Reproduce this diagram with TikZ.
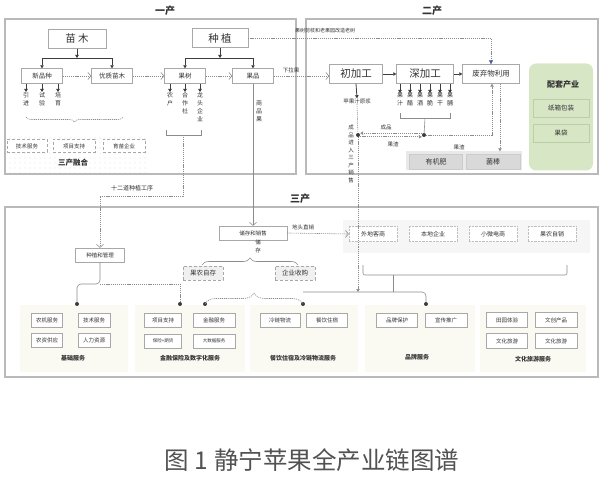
\documentclass[tikz,border=0pt]{standalone}
\usepackage{fontspec}
\setmainfont{Noto Sans CJK SC}
\usepackage{xcolor}
\usetikzlibrary{positioning,arrows.meta,patterns.meta,decorations.pathreplacing,calc}

\definecolor{lnc}{HTML}{8C8C8C}
\definecolor{bdc}{HTML}{A8A8A8}
\definecolor{txc}{HTML}{333333}
\definecolor{trc}{HTML}{3C3C3C}
\definecolor{grn}{HTML}{D7E6C5}
\definecolor{grnbd}{HTML}{BACFA5}
\definecolor{svbg}{HTML}{FAFAF3}
\definecolor{arb}{HTML}{4E5A9A}
\newcommand\fsz[2]{\fontsize{#1}{#2}\selectfont}

\begin{document}
\begin{tikzpicture}[x=1pt,y=-1pt,text=txc,
  frame/.style={draw=gray!55,line width=1.5pt},
  title/.style={font=\bfseries\fsz{10}{10}},
  bigbox/.style={draw=bdc,fill=white,inner sep=0,minimum height=19pt,font=\fsz{10.5}{10.5}},
  midbox/.style={draw=bdc,fill=white,inner sep=0,minimum width=41pt,minimum height=15pt,font=\fsz{6.5}{7}},
  svbox/.style={draw=bdc,fill=white,inner sep=0,minimum width=41pt,minimum height=14pt,font=\fsz{5.5}{6}},
  dbox/.style={svbox,densely dashed},
  vlab/.style={font=\fsz{6}{8},align=center,inner sep=0,anchor=north},
  slab/.style={font=\fsz{5.5}{6},inner sep=0},
  blab/.style={font=\bfseries\fsz{6}{6},inner sep=0},
  link/.style={draw=lnc,line width=0.6pt},
  dlink/.style={link,dash pattern=on 1.2pt off 0.9pt},
  tree/.style={draw=trc,line width=0.8pt},
  openarr/.style={-{Straight Barb[length=3pt,width=7pt]}},
  filarr/.style={-{Triangle[length=3pt,width=3.5pt]}},
  dotn/.style={circle,fill=trc,inner sep=0,minimum size=4pt}]
\useasboundingbox (0,0) rectangle (604,478);

% 一产
\node[title] (t1) at (165,11) {一产};
\fill[pattern={Dots[distance=5pt,radius=0.45pt]},pattern color=gray!70] (6,135) rectangle (146,173);
\draw[frame] (5,19) rectangle (296,174);
\node[bigbox,minimum width=58pt] (mm) at (77,39) {苗\ 木};
\node[bigbox,minimum width=56pt] (zz) at (220,38) {种\ 植};
\node[midbox] (xpz) at (42,76) {新品种};
\node[midbox] (yzmm) at (112,76) {优质苗木};
\node[midbox] (gs) at (185,76) {果树};
\node[midbox] (gp) at (253,76) {果品};
\coordinate (mmj) at (77,58);
\coordinate (zzj) at (220,58);
\draw[tree,filarr] (mm.south) -- (mmj);
\draw[tree,filarr] (mmj) -| (xpz.north);
\draw[tree,filarr] (mmj) -| (yzmm.north);
\draw[tree,filarr] (zz.south) -- (zzj);
\draw[tree,filarr] (zzj) -| (gs.north);
\draw[tree,filarr] (zzj) -| (gp.north);
\draw[dlink,openarr] (xpz) -- (yzmm);
\draw[dlink,openarr] (yzmm) -- (gs);
\draw[dlink,openarr] (gs) -- (gp);
\foreach \x/\lab [count=\i] in {26/{引\\进},42/{试\\验},58/{培\\育}} {
  \node[vlab] (xl\i) at (\x,92) {\lab};
  \draw[tree,filarr] (xpz.south -| xl\i) -- (xl\i.north);
}
\draw[dlink,decorate,decoration={brace,mirror,amplitude=5pt}] (26,117) -- (123,117);
\foreach \x/\lab [count=\i] in {170/{农\\户},185/{合\\作\\社},200/{龙\\头\\企\\业}} {
  \node[vlab] (gl\i) at (\x,92) {\lab};
  \draw[tree,filarr] (gs.south -| gl\i) -- (gl\i.north);
}
\draw[link] (166,130) -- (166,135) -- (201,135) -- (201,130);
\coordinate (gsb) at (183,135);
\node[vlab] (spg) at (259,100) {商\\品\\果};
\node[dbox,minimum width=40pt,minimum height=13pt] (r1) at (27,146) {技术服务};
\node[dbox,minimum width=42pt,minimum height=13pt] (r2) at (74,146) {项目支持};
\node[dbox,minimum width=42pt,minimum height=13pt] (r3) at (124,146) {育苗企业};
\node[font=\bfseries\fsz{7.5}{7.5}] (rh) at (73,163) {三产融合};

% 二产
\node[title] (t2) at (432,11) {二产};
\draw[frame] (306,19) rectangle (598,174);
\node[bigbox,minimum width=53pt] (cjg) at (356,74) {初加工};
\node[bigbox,minimum width=57pt] (sjg) at (425,74) {深加工};
\node[bigbox,minimum width=57pt,font=\fsz{7.5}{7.5}] (fq) at (491,74) {废弃物利用};
\draw[tree,filarr] (cjg) -- (sjg);
\draw[tree,filarr] (sjg) -- (fq);
\draw[dlink,openarr] (gp.east) -- (cjg.west |- gp.east);
\node[slab] (xlg) at (291,70) {下拉果};
\draw[dlink,-{Triangle[length=4pt,width=4pt,color=arb]}] (zz.east) -| (fq.north);
\node[slab,font=\fsz{5}{5}] (jzl) at (325,31) {果树剪枝和老果园改造老树};
\node[slab] (pgz) at (357,101) {苹果汁原浆};
\draw[tree,filarr] (cjg.south) -- (pgz.north);
\foreach \x/\lab [count=\i] in {400/{果\\汁},410/{果\\醋},420/{果\\酒},430/{果\\脆},440/{果\\干},450/{果\\脯}} {
  \node[vlab] (sl\i) at (\x,93) {\lab};
  \draw[tree,filarr] (sjg.south -| sl\i) -- (sl\i.north);
}
\draw[link] (400,113) -- (400,118) -- (450,118) -- (450,113);
\node[dotn] (dl) at (358,135) {};
\node[dotn] (dm) at (424,135) {};
\draw[link] (425,118) -- (dm);
\draw[dlink] (pgz.south) -- (dl);
\draw[dlink,filarr] ([yshift=1.8pt]dm.west) -- ([yshift=1.8pt]dl.east);
\draw[dlink,filarr] ([yshift=-1.8pt]dl.east) -- ([yshift=-1.8pt]dm.west);
\node[slab] (cp) at (386,127) {成品};
\node[slab] (gz1) at (393,144) {果渣};
\draw[dlink,filarr] (dm.east) -| ([xshift=1pt]fq.south);
\node[slab] (gz2) at (459,147) {果渣};
\node[fill=gray!17,inner sep=0,minimum width=116pt,minimum height=19pt] (fz) at (464,161) {};
\node[fill=gray!30,draw=gray!40,inner sep=0,minimum width=53pt,minimum height=15pt,font=\fsz{7}{7}] (yjf) at (436,162) {有机肥};
\node[fill=gray!30,draw=gray!40,inner sep=0,minimum width=54pt,minimum height=15pt,font=\fsz{7}{7}] (jb) at (493,162) {菌棒};
\draw[dlink,filarr] ([xshift=9pt]fq.south) -- ([xshift=9pt]fq.south |- fz.north);
\node[fill=grn,rounded corners=7pt,inner sep=0,minimum width=64pt,minimum height=107pt] (ptcy) at (561,117) {};
\node[font=\bfseries\fsz{8}{8}] (pth) at (563,84) {配套产业};
\node[draw=grnbd,fill=grn,inner sep=0,minimum width=56pt,minimum height=18pt,font=\fsz{6.5}{7}] (zx) at (561,108) {纸箱包装};
\node[draw=grnbd,fill=grn,inner sep=0,minimum width=56pt,minimum height=18pt,font=\fsz{6.5}{7}] (gd) at (561,133) {果袋};

% 三产
\node[title] (t3) at (300,199) {三产};
\draw[frame] (5,207) rectangle (598,377);
\fill[gray!7] (343,220) rectangle (590,253);
\foreach \x/\y/\w/\h in {20/305/108/67,135/305/110/67,250/305/108/67,365/305/110/67,480/305/106/67}
  \fill[svbg] (\x,\y) rectangle ++(\w,\h);
\node[svbox,minimum width=68pt] (cxs) at (253,233) {储存和销售};
\node[svbox,minimum width=49pt] (zgl) at (100,255) {种植和管理};
\draw[link,openarr] (gp.south) -- (cxs.north);
\coordinate (tj) at (100,196);
\draw[dlink,openarr] (gsb) |- (tj) -- (zgl.north);
\node[slab,font=\fsz{6}{6}] (seq) at (132,188) {十二道种植工序};
\node[vlab,font=\fsz{5.5}{7.5}] (cxl) at (351,125) {成\\品\\进\\入\\三\\产\\销\\售};
\foreach \x/\lab [count=\i] in {373/外地客商,433/本地企业,493/小微电商,552/果农自销}
  \node[svbox,draw=gray!50,densely dotted,minimum width=48pt,minimum height=15pt,font=\fsz{6}{6}] (xs\i) at (\x,234) {\lab};
\draw[dlink,openarr] (cxs.east) -- (xs1.west);
\node[slab] (dtzx) at (303,227) {地头直销};
\draw[link,rounded corners=2pt] (363,265) -- (363,275) -- (567,275) -- (567,265);
\node[svbox,fill=gray!12,densely dashed,minimum width=40pt,font=\fsz{6.5}{6.5}] (gnzc) at (203,273) {果农自存};
\node[svbox,fill=gray!12,densely dashed,minimum width=40pt,font=\fsz{6.5}{6.5}] (qysg) at (295,273) {企业收购};
\draw[link,decorate,decoration={brace,amplitude=7pt}] (202,265) -- (298,265);
\node[vlab,font=\fsz{5.5}{8}] (cc) at (258,240) {储\\存};
\node[dotn] (d1) at (77,304) {};
\node[dotn] (d2) at (180,304) {};
\node[dotn] (d3) at (205,304) {};
\node[dotn] (d4) at (303,304) {};
\node[dotn] (d5) at (426,304) {};
\coordinate (zj) at (100,284);
\draw[link,rounded corners=4pt] (zgl.south) -- (zj) -| (d1);
\draw[dlink] (zj) -| (d2);
\draw[dlink,decorate,decoration={brace,amplitude=11pt}] (d3.center) -- (d4.center);
\coordinate (rj) at (303,292);
\coordinate (jr) at (358,292);
\draw[link,rounded corners=4pt] (rj) -| (d5);
\draw[link] (393,275) -- (393,292);
\draw[dlink,filarr] (dl) -- (jr);
% 服务
\node[svbox,minimum width=31pt] (a1) at (47,320) {农机服务};
\node[svbox,minimum width=32pt] (a2) at (94,320) {技术服务};
\node[svbox,minimum width=31pt] (a3) at (47,340) {农资供应};
\node[svbox,minimum width=32pt] (a4) at (94,340) {人力资源};
\node[svbox,minimum width=37pt] (b1) at (163,320) {项目支持};
\node[svbox,minimum width=42pt] (b2) at (214,320) {金融服务};
\node[svbox,minimum width=37pt,font=\fsz{4.5}{5}] (b3) at (163,341) {保险+期货};
\node[svbox,minimum width=42pt,font=\fsz{4.5}{5}] (b4) at (214,341) {大数据服务};
\node[svbox,minimum width=40pt] (c1) at (280,320) {冷链物流};
\node[svbox,minimum width=41pt] (c2) at (327,320) {餐饮住宿};
\node[svbox] (e1) at (397,320) {品牌保护};
\node[svbox,minimum width=42pt] (e2) at (446,320) {宣传推广};
\node[svbox,minimum height=15pt] (f1) at (507,320) {田园体验};
\node[svbox,minimum width=42pt,minimum height=15pt] (f2) at (556,320) {文创产品};
\node[svbox,minimum height=15pt] (f3) at (507,341) {文化旅游};
\node[svbox,minimum width=42pt,minimum height=15pt] (f4) at (556,341) {文化旅游};
\node[blab] (ah) at (73,358) {基础服务};
\node[blab] (bh) at (190,358) {金融保险及数字化服务};
\node[blab] (ch) at (303,358) {餐饮住宿及冷链物流服务};
\node[blab] (eh) at (417,357) {品牌服务};
\node[blab] (fh) at (533,359) {文化旅游服务};

% 图题
\node[font=\fsz{24.5}{24.5},text=txc!85] (cap) at (312,460) {图 1 静宁苹果全产业链图谱};
\end{tikzpicture}
\end{document}
